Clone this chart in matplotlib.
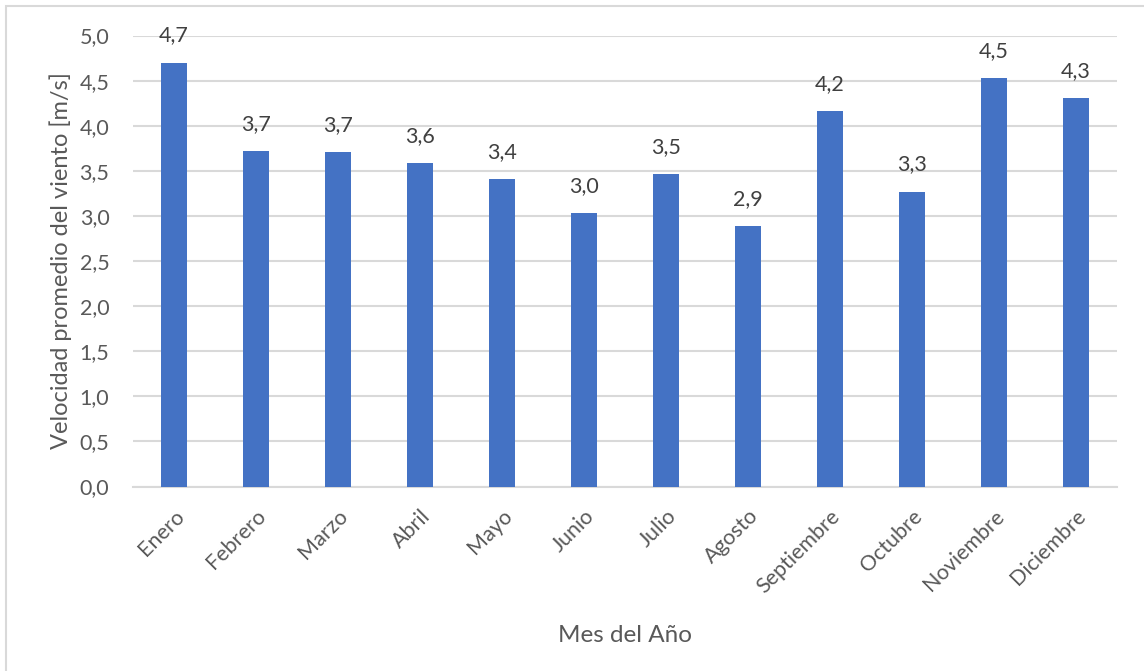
import matplotlib
matplotlib.use("Agg")
from matplotlib import pyplot as plt
from matplotlib.patches import Rectangle
from matplotlib.ticker import FuncFormatter, MultipleLocator

meses = ["Enero", "Febrero", "Marzo", "Abril", "Mayo", "Junio", "Julio",
         "Agosto", "Septiembre", "Octubre", "Noviembre", "Diciembre"]
velocidad = [4.70, 3.72, 3.71, 3.59, 3.41, 3.03, 3.46, 2.89, 4.16, 3.27, 4.53, 4.31]

plt.rcParams['font.family'] = ['Lato', 'DejaVu Sans']
gris = '#595959'
W, H = 1144, 671

fig = plt.figure(figsize=(W / 100, H / 100), dpi=100)
fig.patch.set_facecolor('white')

# chart area frame (only left/top edges fall inside the image)
fig.patches.append(Rectangle((6 / W, -0.1), 1.2, 1 - 6 / H + 0.1,
                             transform=fig.transFigure, fill=False,
                             edgecolor='#d9d9d9', linewidth=1.5))

ax = fig.add_axes([133 / W, 1 - 486.5 / H, 984 / W, 451 / H])
x = range(len(meses))
ax.bar(x, velocidad, width=0.31, color='#4472C4', zorder=3)

for xi, v in zip(x, velocidad):
    ax.annotate(f"{v:.1f}".replace('.', ','), (xi, v), xytext=(0, 21),
                textcoords='offset pixels', ha='center', va='baseline',
                fontsize=15.5, color='#404040')

ax.set_xlim(-0.5, len(meses) - 0.5)
ax.set_ylim(0, 5)
ax.yaxis.set_major_locator(MultipleLocator(0.5))
ax.yaxis.set_major_formatter(FuncFormatter(lambda v, p: f"{v:.1f}".replace('.', ',')))
ax.grid(axis='y', color='#d9d9d9', linewidth=1.5, zorder=0)
for s in ['top', 'right', 'left']:
    ax.spines[s].set_visible(False)
ax.spines['bottom'].set_color('#d9d9d9')
ax.spines['bottom'].set_linewidth(1.5)

ax.set_xticks(list(x))
ax.set_xticklabels(meses, rotation=45, ha='right', rotation_mode='anchor')
ax.tick_params(axis='x', length=0, pad=14, labelsize=15.5, labelcolor=gris)
ax.tick_params(axis='y', length=0, pad=17, labelsize=15.5, labelcolor=gris)

ax.set_ylabel("Velocidad promedio del viento [m/s]", fontsize=17, color=gris)
ax.yaxis.set_label_coords(-0.062, 0.5)
ax.set_xlabel("Mes del Año", fontsize=17.5, color=gris)
ax.xaxis.set_label_coords(0.5, -0.307)

fig.savefig("out.png", dpi=100, facecolor='white')
